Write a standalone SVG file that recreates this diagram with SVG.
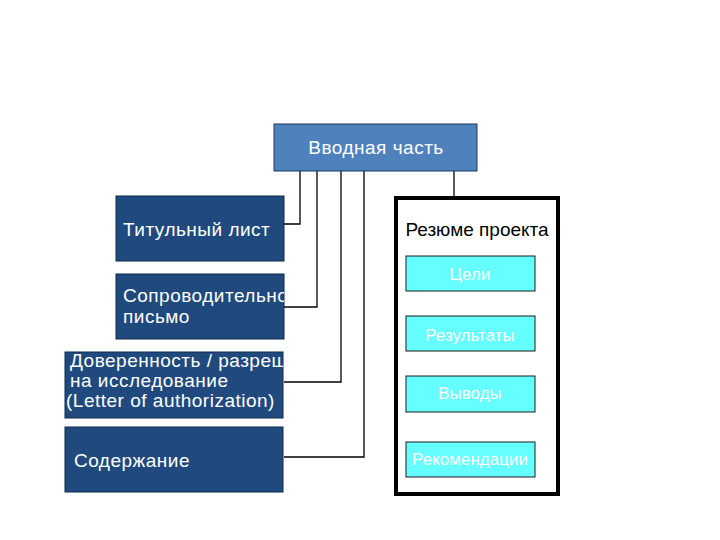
<svg xmlns="http://www.w3.org/2000/svg" width="720" height="540" viewBox="0 0 720 540">
<style>
.dk{fill:#204a7e;stroke:#0d2a4a;stroke-width:1}
.t{font-family:"Liberation Sans",Arial,sans-serif;font-size:19px;fill:#fff;letter-spacing:0.5px}
.c{fill:#66ffff;stroke:#1a1a1a;stroke-width:1}
.ct{font-family:"Liberation Sans",Arial,sans-serif;font-size:17px;fill:#fff;text-anchor:middle}
.ln{fill:none;stroke:#000;stroke-width:1.3}
</style>
<defs>
<clipPath id="c2"><rect x="116" y="274" width="168" height="65"/></clipPath>
<clipPath id="c3"><rect x="65" y="352" width="218" height="66"/></clipPath>
</defs>
<rect width="720" height="540" fill="#fff"/>
<g id="connectors">
<polyline class="ln" points="300,171 300,224 284,224"/>
<polyline class="ln" points="317,171 317,307 284,307"/>
<polyline class="ln" points="341,171 341,382 284,382"/>
<polyline class="ln" points="364,171 364,457 284,457"/>
<line class="ln" x1="454" y1="171" x2="454" y2="197"/>
</g>
<g id="vvodnaya">
<rect x="274" y="124" width="203" height="47" fill="#4f81bd" stroke="#1d3a5c" stroke-width="1"/>
<text class="t" x="376" y="154" text-anchor="middle" font-size="18">Вводная часть</text>
</g>
<g id="titul">
<rect class="dk" x="116" y="196" width="168" height="65"/>
<text class="t" x="123" y="236">Титульный лист</text>
</g>
<g id="soprovod">
<rect class="dk" x="116" y="274" width="168" height="65"/>
<g clip-path="url(#c2)"><text class="t" x="123" y="302">Сопроводительное</text>
<text class="t" x="123" y="323">письмо</text></g>
</g>
<g id="doverennost">
<rect class="dk" x="65" y="352" width="218" height="66"/>
<g clip-path="url(#c3)"><text class="t" x="70" y="367">Доверенность / разрешение</text>
<text class="t" x="70" y="387">на исследование</text>
<text class="t" x="66" y="407">(Letter of authorization)</text></g>
</g>
<g id="soderzhanie">
<rect class="dk" x="65" y="427" width="218" height="65"/>
<text class="t" x="74" y="467">Содержание</text>
</g>
<g id="rezume">
<rect x="396" y="198" width="162" height="296" fill="#fff" stroke="#000" stroke-width="4"/>
<text x="477" y="236" text-anchor="middle" font-family="Liberation Sans,Arial,sans-serif" font-size="19" fill="#000">Резюме проекта</text>
</g>
<g id="celi">
<rect class="c" x="406" y="256" width="129" height="35"/>
<text class="ct" x="470" y="280">Цели</text>
</g>
<g id="rezultaty">
<rect class="c" x="406" y="316" width="129" height="35"/>
<text class="ct" x="470" y="341">Результаты</text>
</g>
<g id="vyvody">
<rect class="c" x="406" y="376" width="129" height="36"/>
<text class="ct" x="470" y="399">Выводы</text>
</g>
<g id="rekomendacii">
<rect class="c" x="406" y="442" width="129" height="35"/>
<text class="ct" x="470" y="465">Рекомендации</text>
</g>
</svg>
